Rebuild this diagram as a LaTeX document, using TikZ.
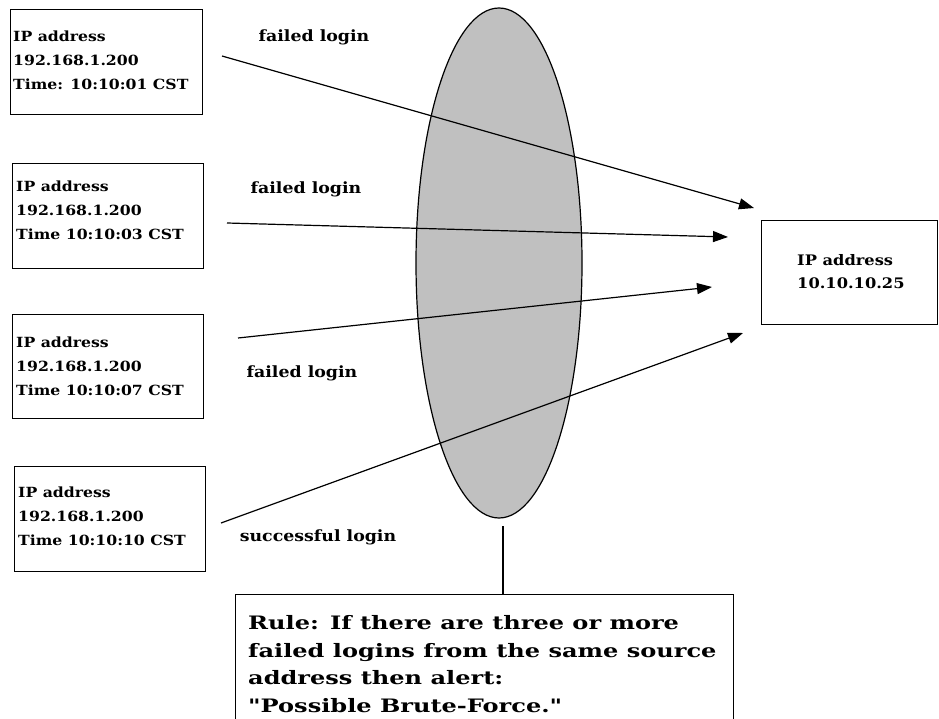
\documentclass[tikz,border=0pt]{standalone}
\usepackage{fontspec}
\setmainfont{DejaVu Serif}[FakeStretch=1.12]
\newfontfamily\rulefont{DejaVu Serif}[FakeStretch=1.3]
\usetikzlibrary{arrows.meta,shapes.geometric}
\begin{document}
\begin{tikzpicture}[x=1pt,y=-1pt,
  box/.style={draw, line width=1.3pt, inner sep=0pt, anchor=north west},
  txt/.style={font=\fontsize{14}{24}\selectfont\bfseries, align=left, inner sep=0pt, anchor=west},
  lbl/.style={font=\fontsize{15.5}{16}\selectfont\bfseries, inner sep=0pt},
  arr/.style={line width=1.2pt, -{Triangle[length=15pt,width=11pt]}}]
\path[use as bounding box, clip] (0,0) rectangle (939,719);

% gray ellipse
\node[ellipse, draw, line width=1.2pt, fill={rgb,255:red,192;green,192;blue,192},
  minimum width=166pt, minimum height=510pt, inner sep=0pt] (ell) at (499,263) {};

% source boxes
\node[box, minimum width=192pt, minimum height=105pt] (s1) at (10,9) {};
\node[txt] (t1) at (13,60) {IP address\\192.168.1.200\\Time: 10:10:01 CST};
\node[box, minimum width=191pt, minimum height=105pt] (s2) at (12,163) {};
\node[txt] (t2) at (16,210) {IP address\\192.168.1.200\\Time 10:10:03 CST};
\node[box, minimum width=191pt, minimum height=104pt] (s3) at (12,314) {};
\node[txt] (t3) at (16,366) {IP address\\192.168.1.200\\Time 10:10:07 CST};
\node[box, minimum width=191pt, minimum height=105pt] (s4) at (14,466) {};
\node[txt] (t4) at (18,516) {IP address\\192.168.1.200\\Time 10:10:10 CST};

% target box
\node[box, minimum width=176pt, minimum height=104pt] (dst) at (761,220) {};
\node[txt, font=\fontsize{14.5}{23}\selectfont\bfseries] (tdst) at (797,272) {IP address\\10.10.10.25};

% rule box
\node[box, minimum width=498pt, minimum height=150pt] (rule) at (235,594) {};
\node[txt, font=\rulefont\fontsize{18.5}{27.7}\selectfont\bfseries] (trule) at (248,664)
  {Rule: If there are three or more\\failed logins from the same source\\address then alert:\\"Possible Brute-Force."};

% connector from rule box up to the ellipse
\coordinate (ruletop) at (503,594);
\coordinate (ellbot) at (503,526);
\draw[line width=1.3pt] (ruletop) -- (ellbot);

% arrows
\coordinate (a1s) at (222,56);  \coordinate (a1e) at (754,208);
\coordinate (a2s) at (227,223); \coordinate (a2e) at (728,237);
\coordinate (a3s) at (238,338); \coordinate (a3e) at (712,287);
\coordinate (a4s) at (221,523); \coordinate (a4e) at (743,333);
\draw[arr] (a1s) -- (a1e);
\draw[arr] (a2s) -- (a2e);
\draw[arr] (a3s) -- (a3e);
\draw[arr] (a4s) -- (a4e);

% labels
\node[lbl] (l1) at (314,37) {failed login};
\node[lbl] (l2) at (306,189) {failed login};
\node[lbl] (l3) at (302,373) {failed login};
\node[lbl] (l4) at (318,537) {successful login};
\end{tikzpicture}
\end{document}
